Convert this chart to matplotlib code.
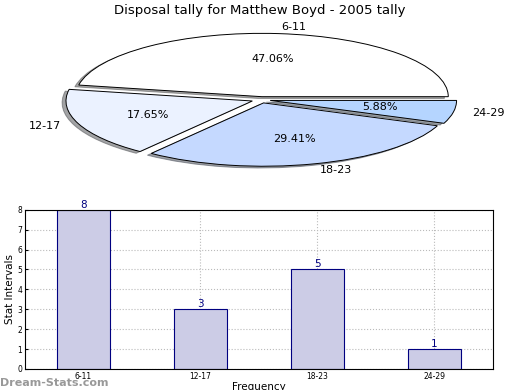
import matplotlib
matplotlib.use("Agg")
import matplotlib.pyplot as plt

title = "Disposal tally for Matthew Boyd - 2005 tally"
categories = ["6-11", "12-17", "18-23", "24-29"]
counts = [8, 3, 5, 1]
pie_colors = ["#FFFFFF", "#EBF2FF", "#C5D9FF", "#B5D5FF"]

fig = plt.figure(figsize=(5.2, 3.9), dpi=100)

# Pie (squashed ellipse)
axp = fig.add_axes([0.054, 0.541, 0.896, 0.406])
wedges, texts, autotexts = axp.pie(
    counts, labels=categories, colors=pie_colors, explode=[0.05] * 4,
    autopct="%1.2f%%", shadow={"ox": -0.015, "oy": -0.02}, startangle=0,
    labeldistance=1.1, pctdistance=0.6,
    wedgeprops=dict(edgecolor="black", linewidth=0.7),
    textprops=dict(fontsize=8))
axp.set_aspect("auto")
axp.set_xlim(-1.25, 1.25)
axp.set_ylim(-1.25, 1.25)
fig.text(0.5, 0.973, title, fontsize=9.5, ha="center", va="center")

# Bar chart
axb = fig.add_axes([0.048, 0.054, 0.900, 0.408])
x = list(range(len(categories)))
axb.bar(x, counts, width=0.45, color="#CCCCE6", edgecolor="#000080", linewidth=0.8, zorder=2)
for xi, v in zip(x, counts):
    axb.text(xi, v, str(v), ha="center", va="bottom", color="#000080", fontsize=7.5, zorder=3)
axb.set_xlim(-0.5, 3.5)
axb.set_ylim(0, 8)
axb.set_xticks(x)
axb.set_xticklabels(categories)
axb.set_yticks(range(0, 9))
axb.tick_params(labelsize=5.5, length=2, direction="in", pad=2)
axb.grid(True, linestyle=":", color="#BBBBBB", linewidth=0.8, zorder=0)
axb.set_axisbelow(True)
axb.set_ylabel("Stat Intervals", fontsize=7.5, labelpad=2)
axb.set_xlabel("Frequency", fontsize=7.5, labelpad=1)

fig.text(0.0, 0.005, "Dream-Stats.com", fontsize=8, color="#999999", ha="left", va="bottom", fontweight="bold")

fig.savefig("out.png", dpi=100)
